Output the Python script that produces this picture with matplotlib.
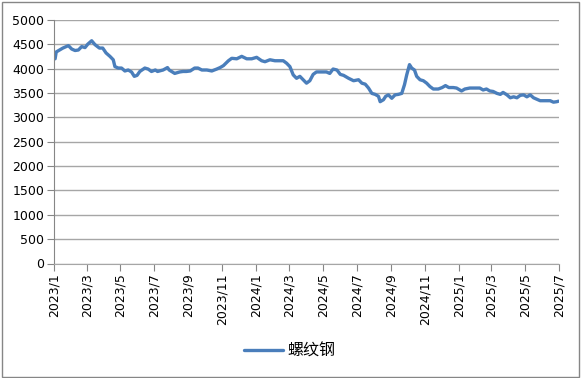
import matplotlib
matplotlib.use("Agg")
import matplotlib.pyplot as plt
import pandas as pd
from matplotlib.patches import Rectangle

dates = [
    "2023-01-03", "2023-01-05", "2023-01-11", "2023-01-17", "2023-01-27", "2023-02-02",
    "2023-02-08", "2023-02-14", "2023-02-20", "2023-02-26", "2023-03-03", "2023-03-10",
    "2023-03-16", "2023-03-24", "2023-03-30", "2023-04-05", "2023-04-12", "2023-04-18",
    "2023-04-21", "2023-04-27", "2023-05-03", "2023-05-09", "2023-05-15", "2023-05-21",
    "2023-05-26", "2023-05-31", "2023-06-05", "2023-06-14", "2023-06-20", "2023-06-26",
    "2023-07-03", "2023-07-07", "2023-07-17", "2023-07-25", "2023-07-28", "2023-08-07",
    "2023-08-16", "2023-08-22", "2023-08-28", "2023-09-04", "2023-09-12", "2023-09-18",
    "2023-09-25", "2023-10-04", "2023-10-13", "2023-10-22", "2023-10-28", "2023-11-03",
    "2023-11-12", "2023-11-18", "2023-11-27", "2023-12-06", "2023-12-15", "2023-12-24",
    "2024-01-02", "2024-01-11", "2024-01-17", "2024-01-26", "2024-02-04", "2024-02-13",
    "2024-02-19", "2024-02-25", "2024-03-02", "2024-03-08", "2024-03-14", "2024-03-20",
    "2024-03-26", "2024-04-01", "2024-04-07", "2024-04-13", "2024-04-19", "2024-04-28",
    "2024-05-07", "2024-05-13", "2024-05-19", "2024-05-26", "2024-06-01", "2024-06-07",
    "2024-06-16", "2024-06-25", "2024-07-04", "2024-07-10", "2024-07-16", "2024-07-22",
    "2024-07-28", "2024-08-03", "2024-08-09", "2024-08-12", "2024-08-18", "2024-08-22",
    "2024-08-27", "2024-09-02", "2024-09-08", "2024-09-14", "2024-09-20", "2024-09-25",
    "2024-09-29", "2024-10-04", "2024-10-08", "2024-10-13", "2024-10-17", "2024-10-23",
    "2024-10-29", "2024-11-04", "2024-11-10", "2024-11-16", "2024-11-25", "2024-12-02",
    "2024-12-08", "2024-12-14", "2024-12-22", "2024-12-28", "2025-01-06", "2025-01-12",
    "2025-01-21", "2025-01-30", "2025-02-08", "2025-02-14", "2025-02-20", "2025-02-26",
    "2025-03-04", "2025-03-11", "2025-03-17", "2025-03-22", "2025-03-29", "2025-04-04",
    "2025-04-10", "2025-04-16", "2025-04-22", "2025-04-28", "2025-05-04", "2025-05-10",
    "2025-05-16", "2025-05-22", "2025-05-28", "2025-06-06", "2025-06-15", "2025-06-21",
    "2025-06-27", "2025-06-30",
]
rebar = [
    4200, 4340, 4380, 4420, 4470, 4400,
    4370, 4380, 4450, 4430, 4500, 4570,
    4490, 4420, 4420, 4320, 4250, 4180,
    4040, 4010, 4010, 3950, 3970, 3930,
    3840, 3860, 3940, 4010, 3990, 3940,
    3970, 3940, 3970, 4020, 3970, 3900,
    3930, 3940, 3940, 3950, 4010, 4010,
    3970, 3970, 3950, 3990, 4020, 4060,
    4160, 4210, 4200, 4250, 4200, 4200,
    4230, 4160, 4140, 4180, 4160, 4160,
    4160, 4110, 4040, 3870, 3800, 3840,
    3770, 3700, 3750, 3880, 3930, 3930,
    3930, 3900, 3990, 3970, 3880, 3860,
    3800, 3750, 3770, 3700, 3680, 3600,
    3490, 3470, 3430, 3320, 3360, 3430,
    3460, 3390, 3460, 3470, 3490, 3670,
    3870, 4080, 4010, 3970, 3840, 3770,
    3750, 3700, 3630, 3580, 3580, 3610,
    3650, 3610, 3610, 3600, 3540, 3580,
    3600, 3600, 3600, 3560, 3580, 3540,
    3530, 3490, 3470, 3510, 3460, 3400,
    3420, 3400, 3450, 3460, 3420, 3460,
    3400, 3370, 3340, 3340, 3340, 3310,
    3320, 3330,
]
series_name = "螺纹钢"
y_ticks = list(range(0, 5001, 500))
x_tick_dates = pd.date_range("2023-01-01", "2025-07-01", freq="2MS")
x_tick_labels = [f"{d.year}/{d.month}" for d in x_tick_dates]

W, H = 583, 378
fig = plt.figure(figsize=(W / 100, H / 100), dpi=100)
fig.patches.append(Rectangle((1.5 / W, 1.5 / H), 577 / W, 375 / H,
                             transform=fig.transFigure, fill=False,
                             edgecolor="#868686", linewidth=1.0))

ax = fig.add_axes([54 / W, (H - 263.5) / H, 505 / W, 243.7 / H])
x = pd.to_datetime(dates)
ax.plot(x, rebar, color="#4A7EBB", linewidth=2.4, label=series_name,
        solid_joinstyle="round", solid_capstyle="round")

ax.set_xlim(pd.Timestamp("2023-01-01"), pd.Timestamp("2025-07-01"))
ax.set_ylim(0, 5000)
ax.set_yticks(y_ticks)
ax.set_yticklabels([str(v) for v in y_ticks], fontsize=9, family="DejaVu Sans")
ax.set_xticks(x_tick_dates)
ax.set_xticklabels(x_tick_labels, rotation=90, fontsize=9, family="DejaVu Sans")
ax.grid(axis="y", color="#A6A6A6", linewidth=1.0)
ax.set_axisbelow(True)
for s in ["top", "right"]:
    ax.spines[s].set_visible(False)
ax.spines["left"].set_color("#868686")
ax.spines["bottom"].set_color("#A6A6A6")
ax.tick_params(axis="both", direction="out", length=5, color="#868686",
               labelcolor="black", pad=2)

leg = fig.legend(loc="center", bbox_to_anchor=(290 / W, (H - 351) / H),
                 frameon=False, handlelength=2.4, handletextpad=0.3,
                 prop={"family": ["Noto Sans CJK SC", "DejaVu Sans"], "size": 11.5})
fig.savefig("out.png", dpi=100)
